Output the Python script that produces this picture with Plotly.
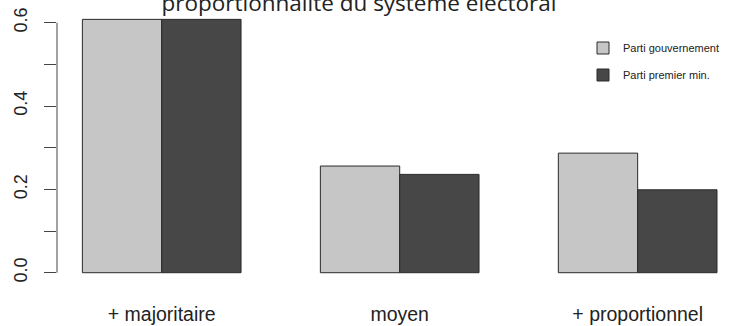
import plotly.graph_objects as go

categories = ["+ majoritaire", "moyen", "+ proportionnel"]
series_names = ["Parti gouvernement", "Parti premier min."]
parti_gouvernement = [0.608, 0.256, 0.287]
parti_premier_min = [0.608, 0.236, 0.199]
y_tick_vals = [0.0, 0.1, 0.2, 0.3, 0.4, 0.5, 0.6]
y_tick_text = ["0.0", "", "0.2", "", "0.4", "", "0.6"]
title_text = "proportionnalité du système électoral"

W, H = 740, 326
L, R, T, B = 57, 0, 10, 43

fig = go.Figure()
fig.add_trace(go.Bar(
    x=categories, y=parti_gouvernement, name=series_names[0],
    marker=dict(color="#c6c6c6", line=dict(color="#2a2a2a", width=1)),
    legend="legend",
))
fig.add_trace(go.Bar(
    x=categories, y=parti_premier_min, name=series_names[1],
    marker=dict(color="#474747", line=dict(color="#2a2a2a", width=1)),
    legend="legend2",
))

# y axis line spanning only the tick range (R style)
fig.add_shape(type="line", xref="paper", yref="y", x0=0, x1=0,
              y0=y_tick_vals[0], y1=y_tick_vals[-1],
              line=dict(color="#444444", width=1))

legend_font = dict(family="Liberation Sans", size=11, color="#222222")
fig.update_layout(
    width=W, height=H,
    margin=dict(l=L, r=R, t=T, b=B, pad=0, autoexpand=False),
    paper_bgcolor="white", plot_bgcolor="white",
    barmode="group", bargap=1/3, bargroupgap=0,
    title=dict(text=title_text, x=359 / W, xanchor="center",
               y=1 - 3 / H, yanchor="middle", yref="container",
               font=dict(family="Open Sans", size=22.5, color="#222222")),
    xaxis=dict(range=[-0.44, 2.43], showgrid=False, zeroline=False,
               showline=False, ticks="",
               tickfont=dict(family="Liberation Sans", size=19.5, color="#222222"),
               ticklabelstandoff=17),
    yaxis=dict(range=[-0.0247, 0.6305], showgrid=False, zeroline=False,
               showline=False, ticks="outside", ticklen=12, tickwidth=1,
               tickcolor="#444444", tickvals=y_tick_vals, ticktext=y_tick_text,
               tickangle=-90, ticklabelstandoff=10,
               tickfont=dict(family="Liberation Sans", size=18, color="#222222")),
    legend=dict(xref="container", yref="container", x=583 / W, y=1 - 48 / H,
                xanchor="left", yanchor="middle", font=legend_font,
                bgcolor="rgba(0,0,0,0)"),
    legend2=dict(xref="container", yref="container", x=583 / W, y=1 - 75 / H,
                 xanchor="left", yanchor="middle", font=legend_font,
                 bgcolor="rgba(0,0,0,0)"),
    showlegend=True,
)

fig.write_html("out.html")
